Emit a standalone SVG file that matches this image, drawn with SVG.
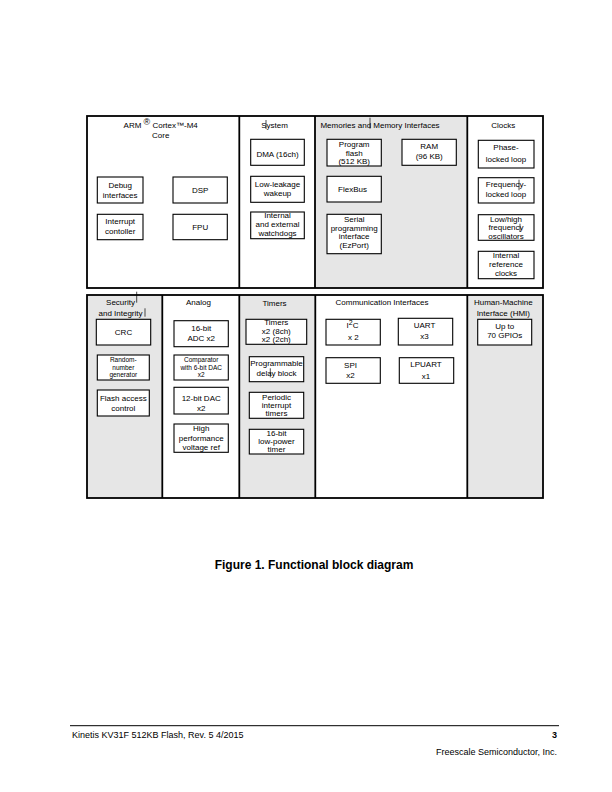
<svg xmlns="http://www.w3.org/2000/svg" width="612" height="792" viewBox="0 0 612 792">
<style>
.frame{fill:none;stroke:#000;stroke-width:1.8}
.div{stroke:#000;stroke-width:1.8}
.gray{fill:#e6e6e6;stroke:none}
.box{fill:#fff;stroke:#000;stroke-width:1.1}
text{font-family:"Liberation Sans",Arial,sans-serif;font-size:8px;fill:#000}
.t{text-anchor:middle}
.s{font-size:6.5px}
.tick{stroke:#000;stroke-width:0.7}
.cap{font-size:12px;font-weight:bold;text-anchor:middle}
.foot{font-size:9px}
</style>
<rect width="612" height="792" fill="#fff"/>
<g id="frame-top">
<rect class="gray" x="315" y="116" width="152.3" height="172"/>
<rect class="frame" x="87" y="116" width="456" height="172"/>
<line class="div" x1="239.3" y1="116" x2="239.3" y2="288"/>
<line class="div" x1="315" y1="116" x2="315" y2="288"/>
<line class="div" x1="467.3" y1="116" x2="467.3" y2="288"/>
</g>
<g id="frame-bottom">
<rect class="gray" x="87" y="295" width="75.3" height="203"/>
<rect class="gray" x="239.3" y="295" width="76" height="203"/>
<rect class="gray" x="467.3" y="295" width="75.7" height="203"/>
<rect class="frame" x="87" y="295" width="456" height="203"/>
<line class="div" x1="162.3" y1="295" x2="162.3" y2="498"/>
<line class="div" x1="239.3" y1="295" x2="239.3" y2="498"/>
<line class="div" x1="315.3" y1="295" x2="315.3" y2="498"/>
<line class="div" x1="467.3" y1="295" x2="467.3" y2="498"/>
</g>
<g id="titles">
<text class="t" x="160.7" y="127.5">ARM <tspan dy="-2.5" font-size="9">®</tspan><tspan dy="2.5"> Cortex™-M4</tspan></text>
<text class="t" x="160.7" y="138">Core</text>
<text class="t" x="274.5" y="127.5">System</text>
<text class="t" x="380" y="127.5">Memories and Memory Interfaces</text>
<text class="t" x="503.3" y="127.5">Clocks</text>
<text class="t" x="120.5" y="304.5">Security</text>
<text class="t" x="120.5" y="315.5">and Integrity</text>
<text class="t" x="198.5" y="305">Analog</text>
<text class="t" x="274.5" y="305.5">Timers</text>
<text class="t" x="382" y="304.5">Communication Interfaces</text>
<text class="t" x="503.3" y="304.5">Human-Machine</text>
<text class="t" x="503.3" y="316">Interface (HMI)</text>
</g>
<g id="debug"><rect class="box" x="97.3" y="177" width="45.7" height="26"/><text class="t" x="120.2" y="187.5">Debug</text><text class="t" x="120.2" y="197.5">interfaces</text></g>
<g id="dsp"><rect class="box" x="173" y="177" width="54.3" height="26"/><text class="t" x="200.2" y="193">DSP</text></g>
<g id="interrupt"><rect class="box" x="97.3" y="214.3" width="45.7" height="25.4"/><text class="t" x="120.2" y="224">Interrupt</text><text class="t" x="120.2" y="234">contoller</text></g>
<g id="fpu"><rect class="box" x="173" y="214.3" width="54.3" height="25.4"/><text class="t" x="200.2" y="229.8">FPU</text></g>
<g id="dma"><rect class="box" x="250.7" y="139.3" width="53.6" height="26"/><text class="t" x="277.5" y="157">DMA (16ch)</text></g>
<g id="llwu"><rect class="box" x="250.7" y="176.3" width="53.6" height="26"/><text class="t" x="277.5" y="186.5">Low-leakage</text><text class="t" x="277.5" y="195.5">wakeup</text></g>
<g id="wdog"><rect class="box" x="250.7" y="212" width="53.6" height="26.7"/><text class="t" x="277.5" y="218">Internal</text><text class="t" x="277.5" y="227">and external</text><text class="t" x="277.5" y="235.5">watchdogs</text></g>
<g id="pflash"><rect class="box" x="327" y="139.3" width="54.3" height="26.7"/><text class="t" x="354.2" y="147">Program</text><text class="t" x="354.2" y="155.5">flash</text><text class="t" x="354.2" y="163.8">(512 KB)</text></g>
<g id="ram"><rect class="box" x="402" y="139.3" width="54.3" height="26"/><text class="t" x="429.2" y="149">RAM</text><text class="t" x="429.2" y="158.8">(96 KB)</text></g>
<g id="flexbus"><rect class="box" x="327" y="176.3" width="54.3" height="25.7"/><text class="t" x="352.5" y="192">FlexBus</text></g>
<g id="ezport"><rect class="box" x="327" y="214.3" width="54.3" height="39.4"/><text class="t" x="354.2" y="222">Serial</text><text class="t" x="354.2" y="230.8">programming</text><text class="t" x="354.2" y="238.8">interface</text><text class="t" x="354.2" y="247.5">(EzPort)</text></g>
<g id="pll"><rect class="box" x="478.3" y="140.3" width="55.7" height="27.7"/><text class="t" x="506" y="150">Phase-</text><text class="t" x="506" y="161.5">locked loop</text></g>
<g id="fll"><rect class="box" x="478.3" y="177.7" width="55.7" height="25.3"/><text class="t" x="506" y="186.5">Frequency-</text><text class="t" x="506" y="196.5">locked loop</text></g>
<g id="osc"><rect class="box" x="478.3" y="214.7" width="55.7" height="25.6"/><text class="t" x="506" y="221.5">Low/high</text><text class="t" x="506" y="229.8">frequency</text><text class="t" x="506" y="238.8">oscillators</text></g>
<g id="irc"><rect class="box" x="478.3" y="251.3" width="55.7" height="27.4"/><text class="t" x="506" y="258">Internal</text><text class="t" x="506" y="266.5">reference</text><text class="t" x="506" y="275.5">clocks</text></g>
<g id="crc"><rect class="box" x="96.3" y="319.3" width="54.4" height="25.7"/><text class="t" x="123.5" y="334.5">CRC</text></g>
<g id="rng"><rect class="box" x="97.3" y="355" width="52" height="25"/><text class="t s" x="123.3" y="362.3">Random-</text><text class="t s" x="123.3" y="369.8">number</text><text class="t s" x="123.3" y="377.3">generator</text></g>
<g id="fac"><rect class="box" x="97.3" y="390" width="52" height="26"/><text class="t" x="123.3" y="401">Flash access</text><text class="t" x="123.3" y="411">control</text></g>
<g id="adc"><rect class="box" x="174" y="320.7" width="54.3" height="26"/><text class="t" x="201.2" y="331">16-bit</text><text class="t" x="201.2" y="340.5">ADC x2</text></g>
<g id="cmp"><rect class="box" x="174" y="355" width="54.3" height="25"/><text class="t s" x="201.2" y="362.2">Comparator</text><text class="t s" x="201.2" y="369.7">with 6-bit DAC</text><text class="t s" x="201.2" y="377.2">x2</text></g>
<g id="dac"><rect class="box" x="174" y="387.3" width="54.3" height="26.7"/><text class="t" x="201.2" y="401">12-bit DAC</text><text class="t" x="201.2" y="410.5">x2</text></g>
<g id="vref"><rect class="box" x="174" y="424" width="54.3" height="28.3"/><text class="t" x="201.2" y="431">High</text><text class="t" x="201.2" y="440.5">performance</text><text class="t" x="201.2" y="450">voltage ref</text></g>
<g id="ftm"><rect class="box" x="246" y="319.3" width="60.7" height="25"/><text class="t" x="276.3" y="324.5">Timers</text><text class="t" x="276.3" y="333.5">x2 (8ch)</text><text class="t" x="276.3" y="342">x2 (2ch)</text></g>
<g id="pdb"><rect class="box" x="249.3" y="356.7" width="54.4" height="25"/><text class="t" x="276.5" y="366">Programmable</text><text class="t" x="276.5" y="375.5">delay block</text></g>
<g id="pit"><rect class="box" x="249.3" y="392.3" width="54.4" height="26"/><text class="t" x="276.5" y="399.5">Periodic</text><text class="t" x="276.5" y="407.8">interrupt</text><text class="t" x="276.5" y="416">timers</text></g>
<g id="lptmr"><rect class="box" x="249.3" y="429.3" width="54.4" height="24.7"/><text class="t" x="276.5" y="436">16-bit</text><text class="t" x="276.5" y="443.8">low-power</text><text class="t" x="276.5" y="451.8">timer</text></g>
<g id="i2c"><rect class="box" x="326" y="319.3" width="54.3" height="25.7"/><text class="t" x="352.5" y="327.8">I<tspan dy="-3" font-size="7">2</tspan><tspan dy="3">C</tspan></text><text class="t" x="353.3" y="340">x 2</text></g>
<g id="uart"><rect class="box" x="398.3" y="318.3" width="54.4" height="26.7"/><text class="t" x="424.5" y="328">UART</text><text class="t" x="424.5" y="338.8">x3</text></g>
<g id="spi"><rect class="box" x="326" y="357.7" width="54.3" height="25.6"/><text class="t" x="350.5" y="367.8">SPI</text><text class="t" x="350.5" y="377.8">x2</text></g>
<g id="lpuart"><rect class="box" x="399.3" y="357.7" width="54.4" height="25.6"/><text class="t" x="426" y="366.8">LPUART</text><text class="t" x="426" y="378.8">x1</text></g>
<g id="gpio"><rect class="box" x="477.7" y="319.3" width="54" height="25.7"/><text class="t" x="504.7" y="328.8">Up to</text><text class="t" x="504.7" y="337.8">70 GPIOs</text></g>
<g id="connectors"/>
<g id="marks">
<line class="tick" x1="266" y1="120" x2="266" y2="129"/>
<line class="tick" x1="370" y1="117.7" x2="370" y2="128.7"/>
<line class="tick" x1="136.7" y1="291.7" x2="136.7" y2="302.7"/>
<line class="tick" x1="145" y1="308.3" x2="145" y2="316.7"/>
<line class="tick" x1="519" y1="179.7" x2="519" y2="190.3"/>
<line class="tick" x1="520" y1="223.7" x2="520" y2="232"/>
<line class="tick" x1="270.3" y1="368.3" x2="270.3" y2="377.3"/>
</g>
<text class="cap" x="314" y="569">Figure 1. Functional block diagram</text>
<g id="footer">
<line x1="70" y1="725.7" x2="559" y2="725.7" stroke="#000" stroke-width="1"/>
<text class="foot" x="72" y="738">Kinetis KV31F 512KB Flash, Rev. 5 4/2015</text>
<text class="foot" x="557" y="738" text-anchor="end" font-weight="bold">3</text>
<text class="foot" x="557" y="755" text-anchor="end">Freescale Semiconductor, Inc.</text>
</g>
</svg>
